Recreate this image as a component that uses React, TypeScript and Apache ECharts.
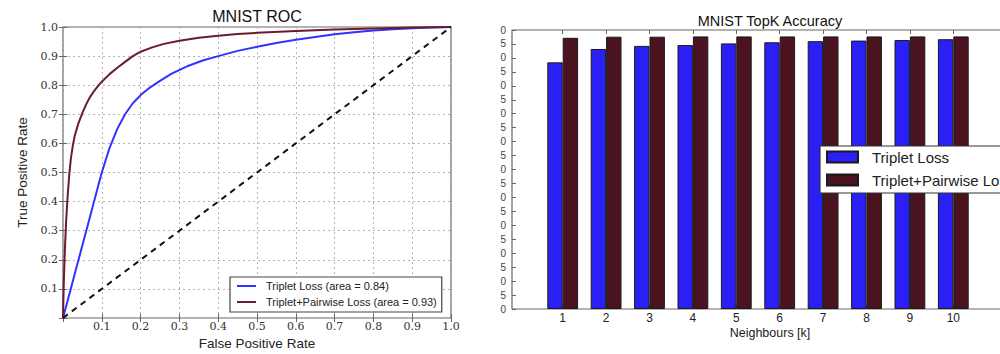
import React, { useEffect, useRef } from "react";
import * as echarts from "echarts";

// ---------- ROC data (left chart) ----------
const rocFprTriplet = [0, 0.01, 0.02, 0.03, 0.04, 0.05, 0.06, 0.07, 0.08, 0.09, 0.1, 0.12, 0.14, 0.16, 0.18, 0.2, 0.22, 0.25, 0.28, 0.32, 0.36, 0.4, 0.45, 0.5, 0.55, 0.6, 0.65, 0.7, 0.75, 0.8, 0.85, 0.9, 0.95, 1.0];
const rocTprTriplet = [0, 0.05, 0.1, 0.15, 0.2, 0.25, 0.3, 0.35, 0.4, 0.45, 0.5, 0.585, 0.65, 0.7, 0.738, 0.766, 0.788, 0.815, 0.84, 0.865, 0.885, 0.9, 0.918, 0.932, 0.945, 0.956, 0.966, 0.975, 0.982, 0.988, 0.992, 0.996, 0.998, 1.0];
const rocFprPairwise = [0, 0.002, 0.005, 0.008, 0.012, 0.016, 0.02, 0.025, 0.03, 0.04, 0.05, 0.06, 0.07, 0.08, 0.09, 0.1, 0.12, 0.14, 0.16, 0.18, 0.2, 0.23, 0.26, 0.3, 0.35, 0.4, 0.45, 0.5, 0.6, 0.7, 0.8, 0.9, 1.0];
const rocTprPairwise = [0, 0.12, 0.24, 0.33, 0.42, 0.49, 0.545, 0.59, 0.625, 0.67, 0.705, 0.735, 0.76, 0.78, 0.797, 0.812, 0.838, 0.86, 0.88, 0.9, 0.915, 0.93, 0.942, 0.953, 0.963, 0.97, 0.976, 0.98, 0.986, 0.991, 0.995, 0.998, 1.0];
const chanceX = [0, 1];
const chanceY = [0, 1];
const rocLegend = ["Triplet Loss (area = 0.84)", "Triplet+Pairwise Loss (area = 0.93)"];

// ---------- TopK data (right chart) ----------
const neighbours = ["1", "2", "3", "4", "5", "6", "7", "8", "9", "10"];
const accTriplet = [0.884, 0.932, 0.943, 0.946, 0.952, 0.956, 0.96, 0.962, 0.964, 0.967];
const accPairwise = [0.972, 0.976, 0.976, 0.977, 0.977, 0.977, 0.977, 0.977, 0.977, 0.977];
const barLegend = ["Triplet Loss", "Triplet+Pairwise Loss"];

const SANS = "'Liberation Sans', Arial, sans-serif";
const SERIF = "'DejaVu Serif', serif";
// legend line sample: a 2px bar centred in a 19x12 box (tiny corner marks fix the box size)
const LINE_ICON = "path://M0,5H19V7H0Z M0,0H0.01V0.01H0Z M18.99,11.99H19V12H18.99Z";

const zip = (xs: number[], ys: number[]) => xs.map((x, i) => [x, ys[i]]);

function leftOption(): any {
  const tickFmt = (v: number) => (v === 0 ? "" : v.toFixed(1));
  const common = {
    type: "value",
    min: 0,
    max: 1,
    interval: 0.1,
    axisLine: { show: false },
  };
  const tick = { show: true, inside: true, length: 4, lineStyle: { color: "#666" } };
  const split = { show: true, lineStyle: { type: [2, 3], color: "#b4b4b4", width: 1 } };
  return {
    animation: false,
    title: {
      text: "MNIST ROC",
      left: "center",
      top: 3,
      textStyle: { fontFamily: SANS, fontSize: 16, fontWeight: "normal", color: "#111" },
    },
    grid: {
      left: 63,
      top: 27,
      width: 388,
      height: 291,
      show: true,
      borderColor: "#666",
      borderWidth: 1.2,
      outerBoundsMode: "none",
      containLabel: false,
    },
    legend: {
      data: rocLegend.map((n) => ({ name: n, icon: LINE_ICON })),
      orient: "vertical",
      left: 230,
      top: 277,
      padding: [3, 5, 4, 7],
      itemGap: 4,
      itemWidth: 19,
      itemHeight: 12,
      backgroundColor: "#fff",
      borderColor: "#444",
      borderWidth: 1.2,
      borderRadius: 0,
      textStyle: { fontFamily: SANS, fontSize: 11, color: "#222", padding: [0, 0, 0, 5] },
    },
    xAxis: [
      {
        ...common,
        position: "bottom",
        name: "False Positive Rate",
        nameLocation: "middle",
        nameGap: 18,
        nameTextStyle: { fontFamily: SANS, fontSize: 13.5, color: "#222" },
        axisTick: tick,
        axisLabel: { formatter: tickFmt, margin: 3, fontFamily: SERIF, fontSize: 11, color: "#333" },
        splitLine: split,
      },
      {
        ...common,
        position: "top",
        axisTick: tick,
        axisLabel: { show: false },
        splitLine: { show: false },
      },
    ],
    yAxis: [
      {
        ...common,
        position: "left",
        name: "True Positive Rate",
        nameLocation: "middle",
        nameGap: 27,
        nameTextStyle: { fontFamily: SANS, fontSize: 13.5, color: "#222" },
        axisTick: tick,
        axisLabel: { formatter: tickFmt, margin: 5, fontFamily: SERIF, fontSize: 11, color: "#333" },
        splitLine: split,
      },
      {
        ...common,
        position: "right",
        axisTick: tick,
        axisLabel: { show: false },
        splitLine: { show: false },
      },
    ],
    series: [
      {
        name: rocLegend[0],
        type: "line",
        data: zip(rocFprTriplet, rocTprTriplet),
        symbol: "none",
        showSymbol: false,
        lineStyle: { color: "#3232ff", width: 2 },
        itemStyle: { color: "#3232ff" },
      },
      {
        name: rocLegend[1],
        type: "line",
        data: zip(rocFprPairwise, rocTprPairwise),
        symbol: "none",
        showSymbol: false,
        lineStyle: { color: "#6a1b2c", width: 2 },
        itemStyle: { color: "#6a1b2c" },
      },
      {
        name: "chance",
        type: "line",
        data: zip(chanceX, chanceY),
        symbol: "none",
        lineStyle: { color: "#111", width: 2, type: [6, 5] },
      },
    ],
  };
}

function rightOption(): any {
  const tick = { show: true, inside: true, length: 4, lineStyle: { color: "#666" } };
  return {
    animation: false,
    title: {
      text: "MNIST TopK Accuracy",
      left: "center",
      top: 8.5,
      textStyle: { fontFamily: SANS, fontSize: 14.5, fontWeight: "normal", color: "#111" },
    },
    grid: [
      {
        left: 12,
        top: 30,
        width: 516,
        height: 279,
        show: true,
        borderColor: "#666",
        borderWidth: 1.2,
        outerBoundsMode: "none",
        containLabel: false,
      },
      { left: 41, top: 30, width: 434, height: 279, outerBoundsMode: "none", containLabel: false },
    ],
    legend: {
      data: barLegend,
      orient: "vertical",
      left: 320,
      top: 146,
      padding: [3.5, 6, 5.5, 6],
      itemGap: 8,
      itemWidth: 31,
      itemHeight: 11,
      icon: "rect",
      backgroundColor: "#fff",
      borderColor: "#333",
      borderWidth: 1.2,
      borderRadius: 0,
      textStyle: { fontFamily: SANS, fontSize: 15, color: "#222", padding: [0, 0, 0, 9] },
    },
    xAxis: [
      {
        gridIndex: 0,
        type: "value",
        min: 0,
        max: 1,
        axisLine: { show: false },
        axisTick: { show: false },
        axisLabel: { show: false },
        splitLine: { show: false },
        name: "Neighbours [k]",
        nameLocation: "middle",
        nameGap: 17,
        nameTextStyle: { fontFamily: SANS, fontSize: 12.5, color: "#222" },
      },
      {
        gridIndex: 1,
        type: "category",
        data: neighbours,
        position: "bottom",
        axisLine: { show: false },
        axisTick: { ...tick, alignWithLabel: true },
        axisLabel: { margin: 3, fontFamily: SANS, fontSize: 12, color: "#222" },
      },
      {
        gridIndex: 1,
        type: "category",
        data: neighbours,
        position: "top",
        axisLine: { show: false },
        axisTick: { ...tick, alignWithLabel: true },
        axisLabel: { show: false },
      },
    ],
    yAxis: [
      {
        gridIndex: 0,
        type: "value",
        min: 0,
        max: 1,
        interval: 0.05,
        axisLine: { show: false },
        axisTick: tick,
        axisLabel: { formatter: (v: number) => v.toFixed(2), margin: 6, fontFamily: SANS, fontSize: 10, color: "#444" },
        splitLine: { show: false },
      },
      { gridIndex: 1, type: "value", min: 0, max: 1, show: false },
    ],
    series: [
      {
        name: barLegend[0],
        type: "bar",
        xAxisIndex: 1,
        yAxisIndex: 1,
        data: accTriplet,
        barWidth: 15.4,
        barGap: "0%",
        itemStyle: { color: "#2a1ff5", borderColor: "#1a1a1a", borderWidth: 1 },
      },
      {
        name: barLegend[1],
        type: "bar",
        xAxisIndex: 1,
        yAxisIndex: 1,
        data: accPairwise,
        barWidth: 15.4,
        barGap: "0%",
        itemStyle: { color: "#4a131f", borderColor: "#1a1a1a", borderWidth: 1 },
      },
    ],
  };
}

export default function App() {
  const leftRef = useRef<HTMLDivElement>(null);
  const rightRef = useRef<HTMLDivElement>(null);

  useEffect(() => {
    const l = echarts.init(leftRef.current!, undefined, { renderer: "svg" });
    const r = echarts.init(rightRef.current!, undefined, { renderer: "svg" });
    l.setOption(leftOption());
    r.setOption(rightOption());
    return () => {
      l.dispose();
      r.dispose();
    };
  }, []);

  return (
    <div
      style={{
        position: "absolute",
        left: 0,
        top: 0,
        width: 1000,
        height: 354,
        overflow: "hidden",
        background: "#fff",
      }}
    >
      <div ref={leftRef} style={{ position: "absolute", left: 0, top: 0, width: 514, height: 354 }} />
      <div ref={rightRef} style={{ position: "absolute", left: 500, top: 0, width: 540, height: 354, overflow: "hidden" }} />
    </div>
  );
}
